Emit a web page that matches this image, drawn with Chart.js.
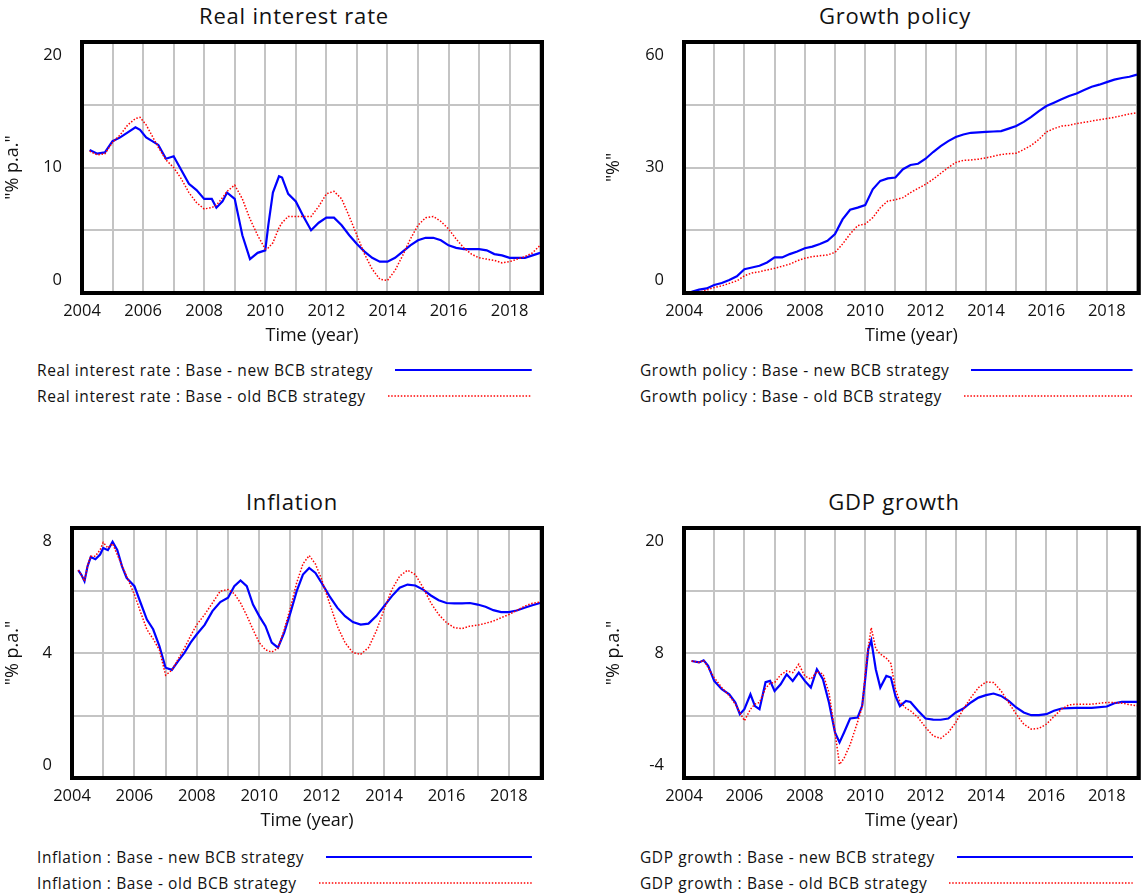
<!DOCTYPE html>
<html>
<head>
<meta charset="utf-8">
<script src="https://cdn.jsdelivr.net/npm/chart.js@4.4.1/dist/chart.umd.min.js"></script>
<style>
  body { margin: 0; background: #fff; font-family: "Open Sans", sans-serif; color: #111; }
  #page { position: relative; width: 1145px; height: 896px; overflow: hidden; }
  canvas { position: absolute; }
  .title { position: absolute; transform: translate(-50%, -50%); font-size: 22px; letter-spacing: 0.8px; white-space: nowrap; }
  .legend { position: absolute; height: 20px; display: flex; align-items: center; font-size: 15.5px; letter-spacing: 0.6px; white-space: nowrap; transform: translateY(-50%); }
  .legend svg { flex: 1; margin-left: 22px; height: 6px; }
</style>
</head>
<body>
<div id="page">
  <div class="title" style="left:294px;top:15px">Real interest rate</div>
  <div class="title" style="left:895px;top:15px">Growth policy</div>
  <div class="title" style="left:292px;top:501px">Inflation</div>
  <div class="title" style="left:894px;top:501px">GDP growth</div>

  <canvas id="rate" width="572" height="347" style="left:0;top:0"></canvas>
  <canvas id="growth" width="545" height="347" style="left:600px;top:0"></canvas>
  <canvas id="inflation" width="572" height="346" style="left:0;top:486px"></canvas>
  <canvas id="gdp" width="545" height="346" style="left:600px;top:486px"></canvas>

  <div id="legends"></div>
</div>

<script>
// time axis
const yearTicks = [2004, 2005, 2006, 2007, 2008, 2009, 2010, 2011, 2012, 2013, 2014, 2015, 2016, 2017, 2018, 2019];

// Real interest rate
const rateYears = [2004.25, 2004.5, 2004.75, 2005, 2005.25, 2005.5, 2005.75, 2005.9, 2006.1, 2006.3,
  2006.5, 2006.75, 2007, 2007.25, 2007.5, 2007.75, 2008, 2008.25, 2008.4, 2008.6,
  2008.75, 2009, 2009.25, 2009.5, 2009.75, 2010, 2010.1, 2010.25, 2010.45, 2010.55,
  2010.75, 2011, 2011.25, 2011.5, 2011.75, 2012, 2012.25, 2012.5, 2012.75, 2013,
  2013.25, 2013.5, 2013.75, 2014, 2014.25, 2014.5, 2014.75, 2015, 2015.25, 2015.5,
  2015.75, 2016, 2016.25, 2016.5, 2016.75, 2017, 2017.25, 2017.5, 2017.75, 2018,
  2018.25, 2018.5, 2018.75, 2019];
const rateNew = [11.4, 11.1, 11.2, 12.1, 12.4, 12.8, 13.2, 13.0, 12.4, 12.1,
  11.8, 10.7, 10.9, 9.8, 8.7, 8.2, 7.5, 7.5, 6.8, 7.3,
  8.0, 7.5, 4.6, 2.7, 3.2, 3.4, 5.4, 8.0, 9.3, 9.2,
  7.9, 7.3, 6.1, 5.0, 5.6, 6.0, 6.0, 5.4, 4.6, 3.9,
  3.3, 2.8, 2.5, 2.5, 2.8, 3.3, 3.8, 4.2, 4.4, 4.4,
  4.2, 3.8, 3.6, 3.5, 3.5, 3.5, 3.4, 3.1, 3.0, 2.8,
  2.8, 2.8, 3.0, 3.2];
const rateOld = [11.3, 11.0, 11.1, 12.0, 12.6, 13.4, 13.9, 14.0, 13.4, 12.5,
  11.6, 10.6, 10.0, 9.1, 8.0, 7.2, 6.7, 6.8, 7.0, 7.6,
  8.1, 8.6, 7.5, 5.9, 4.6, 3.5, 3.6, 4.0, 5.2, 5.6,
  6.1, 6.1, 6.1, 6.1, 6.9, 7.9, 8.1, 7.5, 6.1, 4.6,
  3.1, 1.9, 1.1, 1.0, 1.8, 3.0, 4.3, 5.4, 6.0, 6.1,
  5.7, 5.1, 4.3, 3.6, 3.1, 2.8, 2.7, 2.6, 2.4, 2.5,
  2.7, 2.9, 3.2, 3.8];

// Growth policy
const growthYears = [2004.25, 2004.5, 2004.75, 2005, 2005.25, 2005.5, 2005.75, 2006, 2006.25, 2006.5,
  2006.75, 2007, 2007.25, 2007.5, 2007.75, 2008, 2008.25, 2008.5, 2008.75, 2009,
  2009.25, 2009.5, 2009.75, 2010, 2010.25, 2010.5, 2010.75, 2011, 2011.25, 2011.5,
  2011.75, 2012, 2012.25, 2012.5, 2012.75, 2013, 2013.25, 2013.5, 2013.75, 2014,
  2014.25, 2014.5, 2014.75, 2015, 2015.25, 2015.5, 2015.75, 2016, 2016.25, 2016.5,
  2016.75, 2017, 2017.25, 2017.5, 2017.75, 2018, 2018.25, 2018.5, 2018.75, 2019];
const growthNew = [0.3, 0.8, 1.1, 1.9, 2.4, 3.1, 4.0, 5.7, 6.1, 6.5,
  7.3, 8.5, 8.5, 9.3, 9.9, 10.7, 11.1, 11.7, 12.5, 14.1,
  17.6, 19.9, 20.4, 21.0, 24.8, 26.8, 27.4, 27.6, 29.6, 30.6,
  30.9, 32.1, 33.7, 35.1, 36.3, 37.3, 37.9, 38.3, 38.4, 38.5,
  38.6, 38.7, 39.3, 39.9, 40.9, 42.1, 43.5, 44.7, 45.5, 46.3,
  47.1, 47.7, 48.5, 49.3, 49.8, 50.4, 51.0, 51.4, 51.7, 52.2];
const growthOld = [0.0, 0.2, 0.7, 1.3, 1.7, 2.3, 2.9, 4.1, 4.8, 5.1,
  5.5, 5.9, 6.4, 6.9, 7.7, 8.3, 8.7, 8.9, 9.1, 9.7,
  11.7, 14.1, 16.1, 16.5, 18.0, 20.4, 22.0, 22.3, 22.8, 24.0,
  25.0, 26.0, 27.2, 28.6, 30.0, 31.2, 31.7, 31.8, 32.0, 32.3,
  32.7, 33.1, 33.3, 33.4, 34.3, 35.3, 36.7, 38.5, 39.3, 39.9,
  40.1, 40.5, 40.8, 41.1, 41.4, 41.7, 42.0, 42.4, 42.8, 43.1];

// Inflation
const inflationYears = [2004.2, 2004.3, 2004.4, 2004.5, 2004.6, 2004.75, 2004.9, 2005, 2005.15, 2005.3,
  2005.45, 2005.6, 2005.75, 2006, 2006.2, 2006.4, 2006.6, 2006.8, 2007, 2007.2,
  2007.4, 2007.6, 2007.8, 2008, 2008.25, 2008.5, 2008.75, 2009, 2009.2, 2009.4,
  2009.6, 2009.8, 2010, 2010.2, 2010.4, 2010.6, 2010.8, 2011, 2011.2, 2011.4,
  2011.6, 2011.8, 2012, 2012.25, 2012.5, 2012.75, 2013, 2013.25, 2013.5, 2013.75,
  2014, 2014.25, 2014.5, 2014.75, 2015, 2015.25, 2015.5, 2015.75, 2016, 2016.25,
  2016.5, 2016.75, 2017, 2017.25, 2017.5, 2017.75, 2018, 2018.25, 2018.5, 2018.75,
  2019];
const inflationNew = [6.65, 6.5, 6.3, 6.78, 7.07, 7.0, 7.15, 7.36, 7.29, 7.56,
  7.3, 6.78, 6.4, 6.14, 5.6, 5.07, 4.76, 4.22, 3.53, 3.46,
  3.74, 4.0, 4.33, 4.6, 4.9, 5.34, 5.63, 5.77, 6.14, 6.32,
  6.14, 5.55, 5.18, 4.86, 4.33, 4.17, 4.65, 5.29, 5.98, 6.51,
  6.72, 6.56, 6.24, 5.82, 5.45, 5.18, 4.99, 4.91, 4.94, 5.18,
  5.5, 5.82, 6.09, 6.19, 6.16, 6.03, 5.84, 5.69, 5.6, 5.59,
  5.59, 5.6, 5.55, 5.48, 5.37, 5.31, 5.31, 5.36, 5.45, 5.53,
  5.6];
const inflationOld = [6.65, 6.5, 6.3, 6.8, 7.1, 7.1, 7.3, 7.54, 7.36, 7.5,
  7.15, 6.8, 6.46, 5.87, 5.3, 4.75, 4.45, 4.1, 3.29, 3.45,
  3.8, 4.15, 4.55, 4.91, 5.23, 5.6, 5.98, 6.03, 5.9, 5.6,
  5.2, 4.75, 4.33, 4.1, 4.03, 4.15, 4.75, 5.45, 6.25, 6.85,
  7.12, 6.85, 6.35, 5.6, 4.86, 4.33, 4.01, 3.96, 4.17, 4.7,
  5.39, 6.03, 6.46, 6.65, 6.51, 6.09, 5.6, 5.23, 4.97, 4.81,
  4.78, 4.86, 4.89, 4.95, 5.02, 5.13, 5.23, 5.36, 5.5, 5.59,
  5.63];

// GDP growth
const gdpYears = [2004.25, 2004.5, 2004.65, 2004.8, 2005, 2005.25, 2005.5, 2005.7, 2005.85, 2006,
  2006.2, 2006.35, 2006.5, 2006.7, 2006.85, 2007, 2007.2, 2007.4, 2007.6, 2007.8,
  2008, 2008.2, 2008.4, 2008.6, 2008.8, 2009, 2009.15, 2009.3, 2009.5, 2009.75,
  2009.9, 2010, 2010.1, 2010.2, 2010.35, 2010.5, 2010.7, 2010.85, 2011, 2011.15,
  2011.35, 2011.5, 2011.75, 2012, 2012.25, 2012.5, 2012.75, 2013, 2013.25, 2013.5,
  2013.75, 2014, 2014.25, 2014.5, 2014.75, 2015, 2015.25, 2015.5, 2015.75, 2016,
  2016.25, 2016.5, 2016.75, 2017, 2017.5, 2018, 2018.25, 2018.5, 2019];
const gdpNew = [7.23, 7.1, 7.3, 6.76, 5.32, 4.52, 4.04, 3.25, 2.13, 2.6,
  4.04, 2.9, 2.6, 5.2, 5.32, 4.36, 5.0, 5.96, 5.32, 6.12,
  5.32, 4.68, 6.44, 5.48, 3.25, 0.37, -0.58, 0.37, 1.71, 1.81,
  2.93, 5.48, 8.35, 9.21, 6.44, 4.68, 5.8, 5.64, 3.88, 2.9,
  3.4, 3.3, 2.45, 1.71, 1.6, 1.59, 1.71, 2.29, 2.67, 3.25,
  3.72, 3.95, 4.11, 3.88, 3.41, 2.77, 2.29, 2.03, 2.03, 2.13,
  2.45, 2.67, 2.7, 2.73, 2.73, 2.86, 3.18, 3.31, 3.31];
const gdpOld = [7.23, 7.1, 7.3, 6.6, 5.64, 4.68, 3.88, 3.1, 2.3, 1.49,
  2.6, 3.1, 3.25, 4.6, 5.1, 5.16, 5.9, 6.28, 6.12, 6.92,
  5.8, 5.48, 6.2, 6.0, 4.2, 0.37, -2.7, -2.1, -0.8, 1.4,
  2.8, 5.96, 8.5, 10.43, 8.4, 7.9, 7.5, 7.0, 4.52, 3.3,
  2.7, 2.45, 1.81, 0.85, 0.05, -0.2, 0.37, 1.33, 2.61, 3.72,
  4.68, 5.22, 5.16, 4.36, 3.25, 2.13, 1.17, 0.69, 0.76, 1.17,
  1.9, 2.61, 3.02, 3.09, 3.09, 3.25, 3.25, 3.18, 2.93];

const textColor = "#111";
const gridColor = "#c4c4c4";
const fontFamily = "'Open Sans', sans-serif";

// thick black frame + Vensim style y labels (top/bottom labels pulled inside)
const framePlugin = {
  id: "frame",
  afterDatasetsDraw(chart) {
    const { ctx, chartArea: a } = chart;
    const y = chart.scales.y;
    ctx.save();
    ctx.strokeStyle = "#000";
    ctx.lineWidth = 4;
    ctx.strokeRect(a.left, a.top, a.right - a.left, a.bottom - a.top);
    ctx.fillStyle = textColor;
    ctx.font = "16.5px " + fontFamily;
    ctx.textAlign = "right";
    ctx.textBaseline = "middle";
    const mid = (y.min + y.max) / 2;
    [[y.max, 13], [mid, 0], [y.min, -13]].forEach(([v, off]) => {
      ctx.fillText(String(v), a.left - 20, y.getPixelForValue(v) + off);
    });
    ctx.restore();
  },
};

function drawPanel(id, years, newVals, oldVals, yMin, yMax, yTitle, yWidth, padLeft, padRight) {
  new Chart(document.getElementById(id), {
    type: "line",
    plugins: [framePlugin],
    data: {
      datasets: [
        {
          label: "new",
          data: years.map((t, i) => ({ x: t, y: newVals[i] })),
          borderColor: "#0000ff",
          borderWidth: 2.2,
          order: 1,
        },
        {
          label: "old",
          data: years.map((t, i) => ({ x: t, y: oldVals[i] })),
          borderColor: "#ff0000",
          borderWidth: 1.5,
          borderDash: [1.5, 1.7],
          order: 0,
        },
      ],
    },
    options: {
      responsive: false,
      animation: false,
      devicePixelRatio: 1,
      layout: { padding: { left: padLeft, top: 42, right: padRight, bottom: 0 } },
      elements: { point: { radius: 0 }, line: { tension: 0 } },
      plugins: { legend: { display: false }, tooltip: { enabled: false } },
      scales: {
        x: {
          type: "linear",
          min: 2004,
          max: 2019.06,
          afterBuildTicks: (s) => { s.ticks = yearTicks.map((v) => ({ value: v })); },
          afterFit: (s) => { s.height = 54; },
          grid: { color: gridColor, lineWidth: 2, drawTicks: false },
          border: { display: false },
          ticks: {
            padding: 8,
            autoSkip: false,
            maxRotation: 0,
            color: textColor,
            font: { family: fontFamily, size: 16.5 },
            callback: (v) => (v % 2 === 0 ? String(v) : ""),
          },
          title: { display: true, text: "Time (year)", color: textColor, font: { family: fontFamily, size: 18 }, padding: 0 },
        },
        y: {
          min: yMin,
          max: yMax,
          afterBuildTicks: (s) => {
            const step = (yMax - yMin) / 4;
            s.ticks = [0, 1, 2, 3, 4].map((i) => ({ value: yMin + i * step }));
          },
          afterFit: (s) => { s.width = yWidth; },
          grid: { color: gridColor, lineWidth: 2, drawTicks: false },
          border: { display: false },
          ticks: { display: false },
          title: { display: true, text: yTitle, color: textColor, font: { family: fontFamily, size: 18 }, padding: { top: 2, bottom: 0 } },
        },
      },
    },
  });
}

drawPanel("rate", rateYears, rateNew, rateOld, 0, 20, '"% p.a."', 82, 0, 30);
drawPanel("growth", growthYears, growthNew, growthOld, 0, 60, '"%"', 83, 1, 1);
drawPanel("inflation", inflationYears, inflationNew, inflationOld, 0, 8, '"% p.a."', 72, 0, 30);
drawPanel("gdp", gdpYears, gdpNew, gdpOld, -4, 20, '"% p.a."', 83, 1, 1);

// legends: text first, line sample to the right (Vensim layout)
const legendRows = [
  { name: "Real interest rate", left: 37, right: 532, top: 370 },
  { name: "Growth policy", left: 640, right: 1133, top: 370 },
  { name: "Inflation", left: 37, right: 532, top: 857 },
  { name: "GDP growth", left: 640, right: 1133, top: 857 },
];
const legendSeries = [
  { run: "Base - new BCB strategy", color: "#0000ff", width: 2.2, dash: "" },
  { run: "Base - old BCB strategy", color: "#ff0000", width: 1.5, dash: "1.5 1.7" },
];
let html = "";
legendRows.forEach((row) => {
  legendSeries.forEach((s, k) => {
    html += '<div class="legend" style="left:' + row.left + "px;top:" + (row.top + k * 26) + "px;width:" + (row.right - row.left) + 'px">' +
      "<span>" + row.name + " : " + s.run + "</span>" +
      '<svg><line x1="0" y1="3" x2="100%" y2="3" stroke="' + s.color + '" stroke-width="' + s.width + '"' +
      (s.dash ? ' stroke-dasharray="' + s.dash + '"' : "") + "/></svg></div>";
  });
});
document.getElementById("legends").innerHTML = html;
</script>
</body>
</html>
